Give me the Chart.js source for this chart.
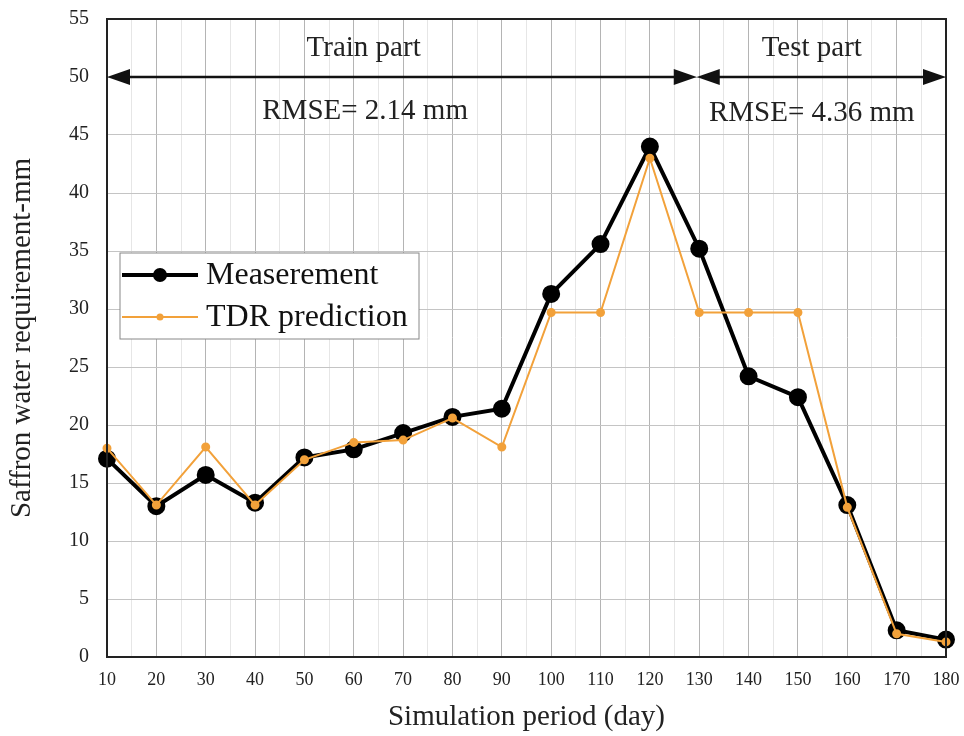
<!doctype html>
<html>
  <head>
    <title>Saffron water requirement</title>
    <script src="https://cdn.jsdelivr.net/npm/chart.js@4.4.1/dist/chart.umd.min.js"></script>
    <style>
      body { margin: 0; background: #fff; }
    </style>
  </head>
  <body>
    <div style="width: 964px; height: 736px">
      <canvas id="joonis"></canvas>
    </div>
    <script>
      // simulation days
      const days = [10, 20, 30, 40, 50, 60, 70, 80, 90, 100, 110, 120, 130, 140, 150, 160, 170, 180];
      const measurement = [17.1, 13.0, 15.7, 13.3, 17.2, 17.9, 19.3, 20.7, 21.4, 31.3, 35.6, 44.0, 35.2, 24.2, 22.4, 13.1, 2.3, 1.5];
      const tdrPrediction = [18.0, 13.1, 18.1, 13.1, 17.0, 18.5, 18.7, 20.6, 18.1, 29.7, 29.7, 43.0, 29.7, 29.7, 29.7, 12.9, 2.0, 1.3];
      const splitDay = 129.5;   // border between train and test part
      const arrowLevel = 50;
      const notes = [
        { text: 'Train part', x: 62, y: 52.5 },
        { text: 'RMSE= 2.14 mm', x: 62.3, y: 47.0 },
        { text: 'Test part', x: 152.8, y: 52.5 },
        { text: 'RMSE= 4.36 mm', x: 152.8, y: 46.9 }
      ];

      const serif = '"Liberation Serif", "DejaVu Serif", serif';
      const orange = '#f2a13a';

      function pts(ys) { return days.map((d, i) => ({ x: d, y: ys[i] })); }

      function arrowHead(ctx, x, y, dir) {
        ctx.beginPath();
        ctx.moveTo(x, y);
        ctx.lineTo(x - dir * 23, y - 8);
        ctx.lineTo(x - dir * 23, y + 8);
        ctx.closePath();
        ctx.fill();
      }

      const extras = {
        id: 'extras',
        afterDatasetsDraw(chart) {
          const { ctx, chartArea: a, scales: { x, y } } = chart;
          ctx.save();
          // frame
          ctx.strokeStyle = '#222';
          ctx.lineWidth = 2;
          ctx.strokeRect(a.left, a.top, a.right - a.left, a.bottom - a.top);

          // arrows
          const ay = y.getPixelForValue(arrowLevel);
          const x0 = x.getPixelForValue(days[0]);
          const xs = x.getPixelForValue(splitDay);
          const x1 = x.getPixelForValue(days[days.length - 1]);
          ctx.strokeStyle = '#111';
          ctx.fillStyle = '#111';
          ctx.lineWidth = 2.5;
          ctx.beginPath();
          ctx.moveTo(x0 + 10, ay); ctx.lineTo(xs - 10, ay);
          ctx.moveTo(xs + 10, ay); ctx.lineTo(x1 - 10, ay);
          ctx.stroke();
          arrowHead(ctx, x0, ay, -1);
          arrowHead(ctx, xs, ay, 1);
          arrowHead(ctx, xs, ay, -1);
          arrowHead(ctx, x1, ay, 1);

          // notes
          ctx.font = '29px ' + serif;
          ctx.textAlign = 'center';
          ctx.textBaseline = 'middle';
          ctx.fillStyle = '#222';
          notes.forEach(n => ctx.fillText(n.text, x.getPixelForValue(n.x), y.getPixelForValue(n.y)));

          // legend
          const lx = a.left + 13, ly = a.top + 234, lw = 299, lh = 86;
          ctx.fillStyle = '#fff';
          ctx.fillRect(lx, ly, lw, lh);
          ctx.strokeStyle = '#888';
          ctx.lineWidth = 1;
          ctx.strokeRect(lx, ly, lw, lh);
          const items = chart.data.datasets;
          items.forEach((ds, i) => {
            const cy = ly + 22 + i * 42;
            ctx.strokeStyle = ds.borderColor;
            ctx.lineWidth = ds.borderWidth;
            ctx.beginPath();
            ctx.moveTo(lx + 2, cy); ctx.lineTo(lx + 78, cy);
            ctx.stroke();
            ctx.fillStyle = ds.pointBackgroundColor;
            ctx.beginPath();
            ctx.arc(lx + 40, cy, ds.pointRadius, 0, Math.PI * 2);
            ctx.fill();
            ctx.fillStyle = '#111';
            ctx.textAlign = 'left';
            ctx.font = '32px ' + serif;
            ctx.fillText(ds.label, lx + 86, cy + 1);
          });
          ctx.restore();
        }
      };

      new Chart(document.getElementById('joonis'), {
        type: 'line',
        data: {
          datasets: [
            {
              label: 'Measerement',
              data: pts(measurement),
              borderColor: '#000',
              backgroundColor: '#000',
              pointBackgroundColor: '#000',
              pointBorderColor: '#000',
              borderWidth: 4,
              pointRadius: 7,
              order: 1,
              clip: false
            },
            {
              label: 'TDR prediction',
              data: pts(tdrPrediction),
              borderColor: orange,
              backgroundColor: orange,
              pointBackgroundColor: orange,
              pointBorderColor: orange,
              borderWidth: 2,
              pointRadius: 3.5,
              order: 0,
              clip: false
            }
          ]
        },
        options: {
          responsive: true,
          maintainAspectRatio: false,
          animation: false,
          layout: { padding: { top: 19, right: 0, left: 0, bottom: 0 } },
          plugins: { legend: { display: false }, tooltip: { enabled: false } },
          scales: {
            x: {
              type: 'linear',
              min: 10,
              max: 180,
              afterFit(s) { s.height = 79; s.paddingRight = 18; },
              ticks: {
                stepSize: 5,
                autoSkip: false,
                maxRotation: 0,
                padding: 12,
                color: '#222',
                font: { family: serif, size: 18 },
                callback: v => (v % 10 === 0 ? v : '')
              },
              grid: {
                color: c => (c.tick && c.tick.value % 10 === 0 ? '#b4b4b4' : '#e6e6e6'),
                lineWidth: 1,
                drawTicks: false
              },
              border: { color: '#222', width: 2 },
              title: {
                display: true,
                text: 'Simulation period (day)',
                color: '#222',
                font: { family: serif, size: 29 },
                padding: { top: 0, bottom: 1 }
              }
            },
            y: {
              min: 0,
              max: 55,
              afterFit(s) { s.width = 107; s.paddingTop = 0; },
              ticks: {
                stepSize: 5,
                padding: 18,
                color: '#222',
                font: { family: serif, size: 20 }
              },
              grid: { color: '#c4c4c4', lineWidth: 1, drawTicks: false },
              border: { color: '#222', width: 2 },
              title: {
                display: true,
                text: 'Saffron water requirement-mm',
                color: '#222',
                font: { family: serif, size: 29 },
                padding: { top: 5, bottom: 4 }
              }
            }
          }
        },
        plugins: [extras]
      });
    </script>
  </body>
</html>
